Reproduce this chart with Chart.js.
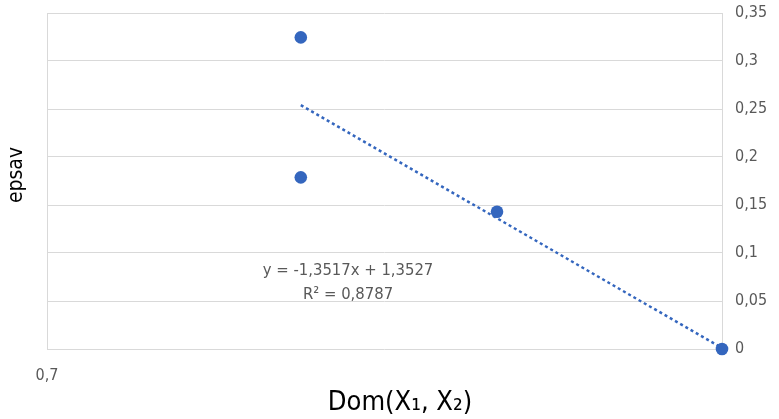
<!DOCTYPE html>
<html><head><meta charset="utf-8">
<script src="https://cdn.jsdelivr.net/npm/chart.js@4"></script>
<style>html,body{margin:0;padding:0;background:#fff}</style>
</head><body>
<canvas id="c" width="779" height="419"></canvas>
<script>
// ---- data ----
const xValues = [0.8128, 0.8128, 0.9, 1.0];
const yValues = [0.3246, 0.1788, 0.143, 0];
const trendSlope = -1.3517;
const trendIntercept = 1.3527;
const trendXRange = [0.8128, 1.0];
const yTickValues = [0, 0.05, 0.1, 0.15, 0.2, 0.25, 0.3, 0.35];
const yTickLabels = ['0', '0,05', '0,1', '0,15', '0,2', '0,25', '0,3', '0,35'];
const xTickValues = [0.7, 1.0];
const xTickLabels = ['0,7', ''];
const equationLines = ['y = -1,3517x + 1,3527', 'R² = 0,8787'];
const equationAnchor = {x: 0.8338, y: [0.0816, 0.0566]};
const xTitle = 'Dom(X\u2081, X\u2082)';
const yTitle = 'epsav';

const FONT = "'Liberation Sans Narrow', 'DejaVu Sans Condensed', sans-serif";
const BLUE = '#3466BE';
const GRID = '#d9d9d9';
const TEXT = '#595959';

const points = xValues.map((x, i) => ({x, y: yValues[i]}));
const trend = trendXRange.map(x => ({x, y: trendSlope * x + trendIntercept}));

const textPlugin = {
  id: 'texts',
  afterDraw(chart) {
    const {ctx, scales: {x, y}} = chart;
    ctx.save();
    ctx.fillStyle = TEXT;
    ctx.font = '16.5px ' + FONT;
    ctx.textAlign = 'center';
    ctx.textBaseline = 'middle';
    equationLines.forEach((t, i) => {
      ctx.fillText(t, x.getPixelForValue(equationAnchor.x), y.getPixelForValue(equationAnchor.y[i]));
    });
    ctx.fillStyle = '#000';
    ctx.font = '27px ' + FONT;
    ctx.fillText(xTitle, 400, 403);
    ctx.translate(17, 175);
    ctx.rotate(-Math.PI / 2);
    ctx.font = '21px ' + FONT;
    ctx.fillText(yTitle, 0, 0);
    ctx.restore();
  }
};

new Chart(document.getElementById('c'), {
  type: 'scatter',
  data: {
    datasets: [
      {
        data: trend, showLine: true, pointRadius: 0, borderColor: BLUE,
        borderWidth: 2.5, borderDash: [3, 3], clip: false, order: 2
      },
      {
        data: points, pointRadius: 6.3, pointHoverRadius: 6.3,
        backgroundColor: BLUE, borderWidth: 0, clip: false, order: 1
      }
    ]
  },
  options: {
    responsive: false,
    devicePixelRatio: 1,
    animation: false,
    layout: {padding: {left: 47, top: 13, right: 0, bottom: 0}},
    plugins: {legend: {display: false}, tooltip: {enabled: false}},
    scales: {
      x: {
        type: 'linear', min: 0.7, max: 1.0, position: 'bottom',
        afterBuildTicks: s => { s.ticks = xTickValues.map(v => ({value: v})); },
        afterFit: s => { s.height = 70; s.paddingLeft = 0; s.paddingRight = 0; },
        ticks: {
          autoSkip: false, maxRotation: 0, padding: 17, color: TEXT,
          font: {family: FONT, size: 16},
          callback: (v, i) => xTickLabels[i]
        },
        grid: {color: GRID, drawTicks: false, lineWidth: 1},
        border: {display: false}
      },
      y: {
        type: 'linear', min: 0, max: 0.35, position: 'right',
        afterBuildTicks: s => { s.ticks = yTickValues.map(v => ({value: v})); },
        afterFit: s => { s.width = 57; s.paddingTop = 0; s.paddingBottom = 0; },
        ticks: {
          autoSkip: false, padding: 13, color: TEXT,
          font: {family: FONT, size: 16},
          callback: (v, i) => yTickLabels[i]
        },
        grid: {color: GRID, drawTicks: false, lineWidth: 1},
        border: {display: false}
      }
    }
  },
  plugins: [textPlugin]
});
</script>
</body></html>
